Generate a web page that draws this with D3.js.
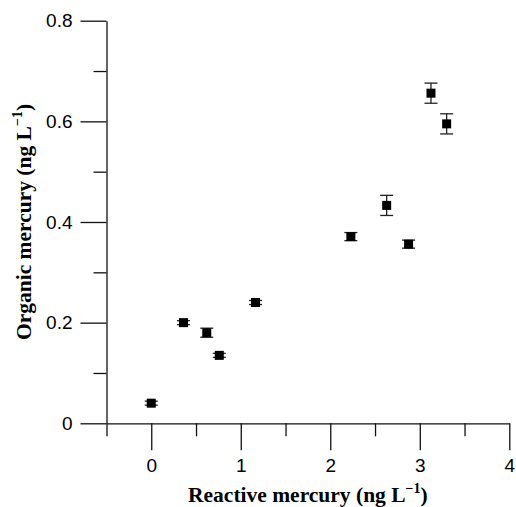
<!DOCTYPE html>
<html>
<head>
<meta charset="utf-8">
<script src="https://cdn.jsdelivr.net/npm/d3@7"></script>
<style>
  body { margin: 0; background: #fff; }
  .tick text { font-family: "Liberation Sans", Arial, sans-serif; }
</style>
</head>
<body>
<div id="chart"></div>
<script>
// reactive vs organic mercury
const reactive = [0, 0.36, 0.62, 0.76, 1.165, 2.23, 2.63, 2.875, 3.125, 3.30];
const organic  = [0.040, 0.200, 0.180, 0.135, 0.240, 0.371, 0.433, 0.356, 0.656, 0.595];
const organicErr = [0.004, 0.004, 0.009, 0.004, 0.004, 0.008, 0.020, 0.008, 0.020, 0.020];

const xMajor = [0, 1, 2, 3, 4];
const xMinor = [-0.5, 0.5, 1.5, 2.5, 3.5];
const yMajor = [0, 0.2, 0.4, 0.6, 0.8];
const yMinor = [0.1, 0.3, 0.5, 0.7];

const width = 516, height = 507;
const margin = {top: 20.7, right: 6.7, bottom: 83.7, left: 106.5};

const svg = d3.select("#chart").append("svg")
  .attr("width", width)
  .attr("height", height);

const x = d3.scaleLinear().domain([-0.5, 4]).range([margin.left, width - margin.right]);
const y = d3.scaleLinear().domain([0, 0.8]).range([height - margin.bottom, margin.top]);

const fmt = d => d === 0 ? "0" : d3.format(".1f")(d);

// x axis: major ticks with labels, minor ticks shorter
svg.append("g")
  .attr("transform", `translate(0,${y(0)})`)
  .call(d3.axisBottom(x).tickValues(xMajor).tickFormat(d3.format("d")).tickSize(27).tickSizeOuter(0).tickPadding(8))
  .call(g => g.selectAll("text").attr("font-size", 19).attr("fill", "#000"));
svg.append("g")
  .attr("transform", `translate(0,${y(0)})`)
  .call(d3.axisBottom(x).tickValues(xMinor).tickFormat("").tickSize(13).tickSizeOuter(0))
  .call(g => g.select(".domain").remove());

// y axis
svg.append("g")
  .attr("transform", `translate(${x(-0.5)},0)`)
  .call(d3.axisLeft(y).tickValues(yMajor).tickFormat(fmt).tickSize(26).tickSizeOuter(0).tickPadding(8))
  .call(g => g.selectAll("text").attr("font-size", 19).attr("fill", "#000"));
svg.append("g")
  .attr("transform", `translate(${x(-0.5)},0)`)
  .call(d3.axisLeft(y).tickValues(yMinor).tickFormat("").tickSize(13).tickSizeOuter(0))
  .call(g => g.select(".domain").remove());

svg.selectAll(".domain, .tick line").attr("stroke", "#111").attr("stroke-width", 1.3);

// error bars
const pts = reactive.map((r, i) => ({x: r, y: organic[i], e: organicErr[i]}));
const capW = 6.5;
const eg = svg.append("g").attr("stroke", "#222").attr("stroke-width", 1.3);
pts.forEach(p => {
  const cx = x(p.x);
  eg.append("line").attr("x1", cx).attr("x2", cx).attr("y1", y(p.y - p.e)).attr("y2", y(p.y + p.e));
  eg.append("line").attr("x1", cx - capW).attr("x2", cx + capW).attr("y1", y(p.y - p.e)).attr("y2", y(p.y - p.e));
  eg.append("line").attr("x1", cx - capW).attr("x2", cx + capW).attr("y1", y(p.y + p.e)).attr("y2", y(p.y + p.e));
});

// square markers
const s = 9;
svg.append("g").selectAll("rect")
  .data(pts)
  .enter()
  .append("rect")
  .attr("x", d => x(d.x) - s / 2)
  .attr("y", d => y(d.y) - s / 2)
  .attr("width", s)
  .attr("height", s)
  .attr("fill", "#000");

// axis titles
const xt = svg.append("text")
  .attr("x", (x.range()[0] + x.range()[1]) / 2)
  .attr("y", 502)
  .attr("text-anchor", "middle")
  .attr("font-family", "Liberation Serif, Times New Roman, serif")
  .attr("font-weight", "bold")
  .attr("font-size", 21.5)
  .text("Reactive mercury (ng L");
xt.append("tspan").attr("dy", -9).attr("font-size", 14).text("\u22121");
xt.append("tspan").attr("dy", 9).text(")");

const yt = svg.append("text")
  .attr("transform", `translate(31,${(y.range()[0] + y.range()[1]) / 2}) rotate(-90)`)
  .attr("text-anchor", "middle")
  .attr("font-family", "Liberation Serif, Times New Roman, serif")
  .attr("font-weight", "bold")
  .attr("font-size", 21.5)
  .text("Organic mercury (ng L");
yt.append("tspan").attr("dy", -9).attr("font-size", 14).text("\u22121");
yt.append("tspan").attr("dy", 9).text(")");
</script>
</body>
</html>
